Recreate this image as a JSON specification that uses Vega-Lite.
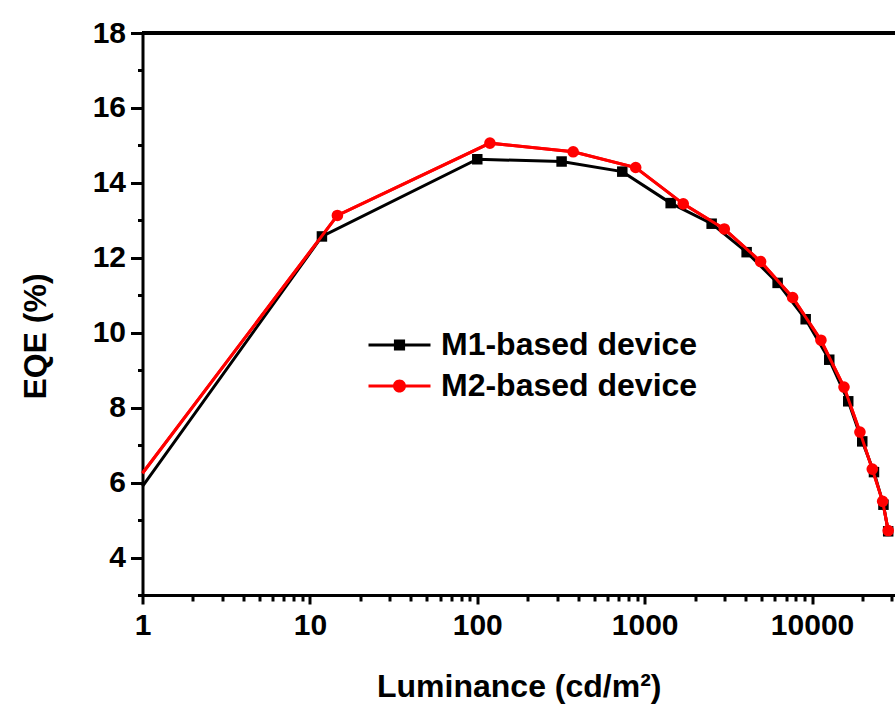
{
  "$schema": "https://vega.github.io/schema/vega-lite/v6.json",
  "width": 752.5,
  "height": 562,
  "autosize": {"type": "none"},
  "padding": {"left": 142.5, "top": 33, "right": 0, "bottom": 115},
  "background": "white",
  "config": {
    "view": {"stroke": null},
    "font": "Liberation Sans",
    "axis": {
      "domainColor": "black", "domainWidth": 3, "tickColor": "black", "tickWidth": 3,
      "labelFont": "Liberation Sans", "labelFontSize": 30, "labelFontWeight": "bold", "labelColor": "black",
      "titleFont": "Liberation Sans", "titleFontSize": 32, "titleFontWeight": "bold", "titleColor": "black",
      "grid": false
    }
  },
  "data": {"values": [
    {"L": 1, "EQE": 5.9, "series": "M1-based device"},
    {"L": 11.8, "EQE": 12.57, "series": "M1-based device"},
    {"L": 100, "EQE": 14.63, "series": "M1-based device"},
    {"L": 319, "EQE": 14.57, "series": "M1-based device"},
    {"L": 735, "EQE": 14.3, "series": "M1-based device"},
    {"L": 1430, "EQE": 13.46, "series": "M1-based device"},
    {"L": 2513, "EQE": 12.91, "series": "M1-based device"},
    {"L": 4066, "EQE": 12.15, "series": "M1-based device"},
    {"L": 6227, "EQE": 11.33, "series": "M1-based device"},
    {"L": 9160, "EQE": 10.36, "series": "M1-based device"},
    {"L": 12670, "EQE": 9.28, "series": "M1-based device"},
    {"L": 16450, "EQE": 8.17, "series": "M1-based device"},
    {"L": 19950, "EQE": 7.1, "series": "M1-based device"},
    {"L": 23440, "EQE": 6.28, "series": "M1-based device"},
    {"L": 26700, "EQE": 5.41, "series": "M1-based device"},
    {"L": 28500, "EQE": 4.7, "series": "M1-based device"},
    {"L": 1, "EQE": 6.25, "series": "M2-based device"},
    {"L": 14.6, "EQE": 13.13, "series": "M2-based device"},
    {"L": 119, "EQE": 15.06, "series": "M2-based device"},
    {"L": 374, "EQE": 14.83, "series": "M2-based device"},
    {"L": 884, "EQE": 14.41, "series": "M2-based device"},
    {"L": 1700, "EQE": 13.44, "series": "M2-based device"},
    {"L": 2990, "EQE": 12.77, "series": "M2-based device"},
    {"L": 4929, "EQE": 11.9, "series": "M2-based device"},
    {"L": 7655, "EQE": 10.94, "series": "M2-based device"},
    {"L": 11300, "EQE": 9.8, "series": "M2-based device"},
    {"L": 15520, "EQE": 8.55, "series": "M2-based device"},
    {"L": 19320, "EQE": 7.35, "series": "M2-based device"},
    {"L": 22900, "EQE": 6.36, "series": "M2-based device"},
    {"L": 26400, "EQE": 5.5, "series": "M2-based device"},
    {"L": 28500, "EQE": 4.72, "series": "M2-based device"}
  ]},
  "encoding": {
    "x": {
      "field": "L", "type": "quantitative",
      "scale": {"type": "log", "domain": [1, 31300], "nice": false},
      "axis": {
        "title": "Luminance (cd/m²)",
        "values": [1,2,3,4,5,6,7,8,9,10,20,30,40,50,60,70,80,90,100,200,300,400,500,600,700,800,900,1000,2000,3000,4000,5000,6000,7000,8000,9000,10000,20000,30000],
        "format": "d",
        "labelExpr": "indexof([1,10,100,1000,10000], datum.value) >= 0 ? datum.label : ''",
        "tickSize": {"condition": {"test": "indexof([1,10,100,1000,10000], datum.value) >= 0", "value": 9}, "value": 6},
        "labelPadding": 6,
        "labelOverlap": false,
        "labelFlush": false,
        "titlePadding": 31
      }
    },
    "y": {
      "field": "EQE", "type": "quantitative",
      "scale": {"domain": [3, 18], "nice": false, "zero": false},
      "axis": {
        "title": "EQE (%)",
        "values": [3,4,5,6,7,8,9,10,11,12,13,14,15,16,17,18],
        "labelExpr": "datum.value % 2 == 0 ? datum.label : ''",
        "tickSize": {"condition": {"test": "datum.value % 2 == 0", "value": 12}, "value": 5},
        "labelPadding": 5,
        "labelOverlap": false,
        "labelFlush": false,
        "titlePadding": 40,
        "titleY": 303
      }
    }
  },
  "layer": [
    {
      "mark": {"type": "rule", "color": "black", "strokeWidth": 3},
      "encoding": {"y": {"datum": 18}, "x": null}
    },
    {
      "mark": {"type": "line", "strokeWidth": 3},
      "encoding": {
        "color": {
          "field": "series", "type": "nominal",
          "scale": {"domain": ["M1-based device", "M2-based device"], "range": ["black", "red"]},
          "legend": {
            "orient": "none", "legendX": 256.5, "legendY": 296, "title": null, "padding": 0,
            "labelFont": "Liberation Sans", "labelFontSize": 32, "labelFontWeight": "bold", "labelColor": "black",
            "labelLimit": 0, "labelOffset": 10, "rowPadding": 9, "symbolSize": 961, "symbolStrokeWidth": 0,
            "encode": {"symbols": {"update": {
              "shape": {"signal": "datum.value == 'M1-based device' ? 'M-3,-0.1H1V0.1H-3Z M-1.36,-0.36H-0.64V0.36H-1.36Z' : 'M-3,-0.1H1V0.1H-3Z M-0.58,0A0.42,0.42,0,1,1,-1.42,0A0.42,0.42,0,1,1,-0.58,0Z'"},
              "fill": {"signal": "datum.value == 'M1-based device' ? 'black' : 'red'"},
              "fillOpacity": {"value": 1},
              "strokeWidth": {"value": 0}
            }}}
          }
        }
      }
    },
    {
      "transform": [{"filter": "datum.series == 'M1-based device' && datum.L > 1"}],
      "mark": {"type": "point", "shape": "square", "filled": true, "color": "black", "size": 110, "opacity": 1}
    },
    {
      "transform": [{"filter": "datum.series == 'M2-based device'"}],
      "mark": {"type": "line", "strokeWidth": 3, "color": "red"}
    },
    {
      "transform": [{"filter": "datum.series == 'M2-based device' && datum.L > 1"}],
      "mark": {"type": "point", "shape": "circle", "filled": true, "color": "red", "size": 135, "opacity": 1}
    }
  ]
}
